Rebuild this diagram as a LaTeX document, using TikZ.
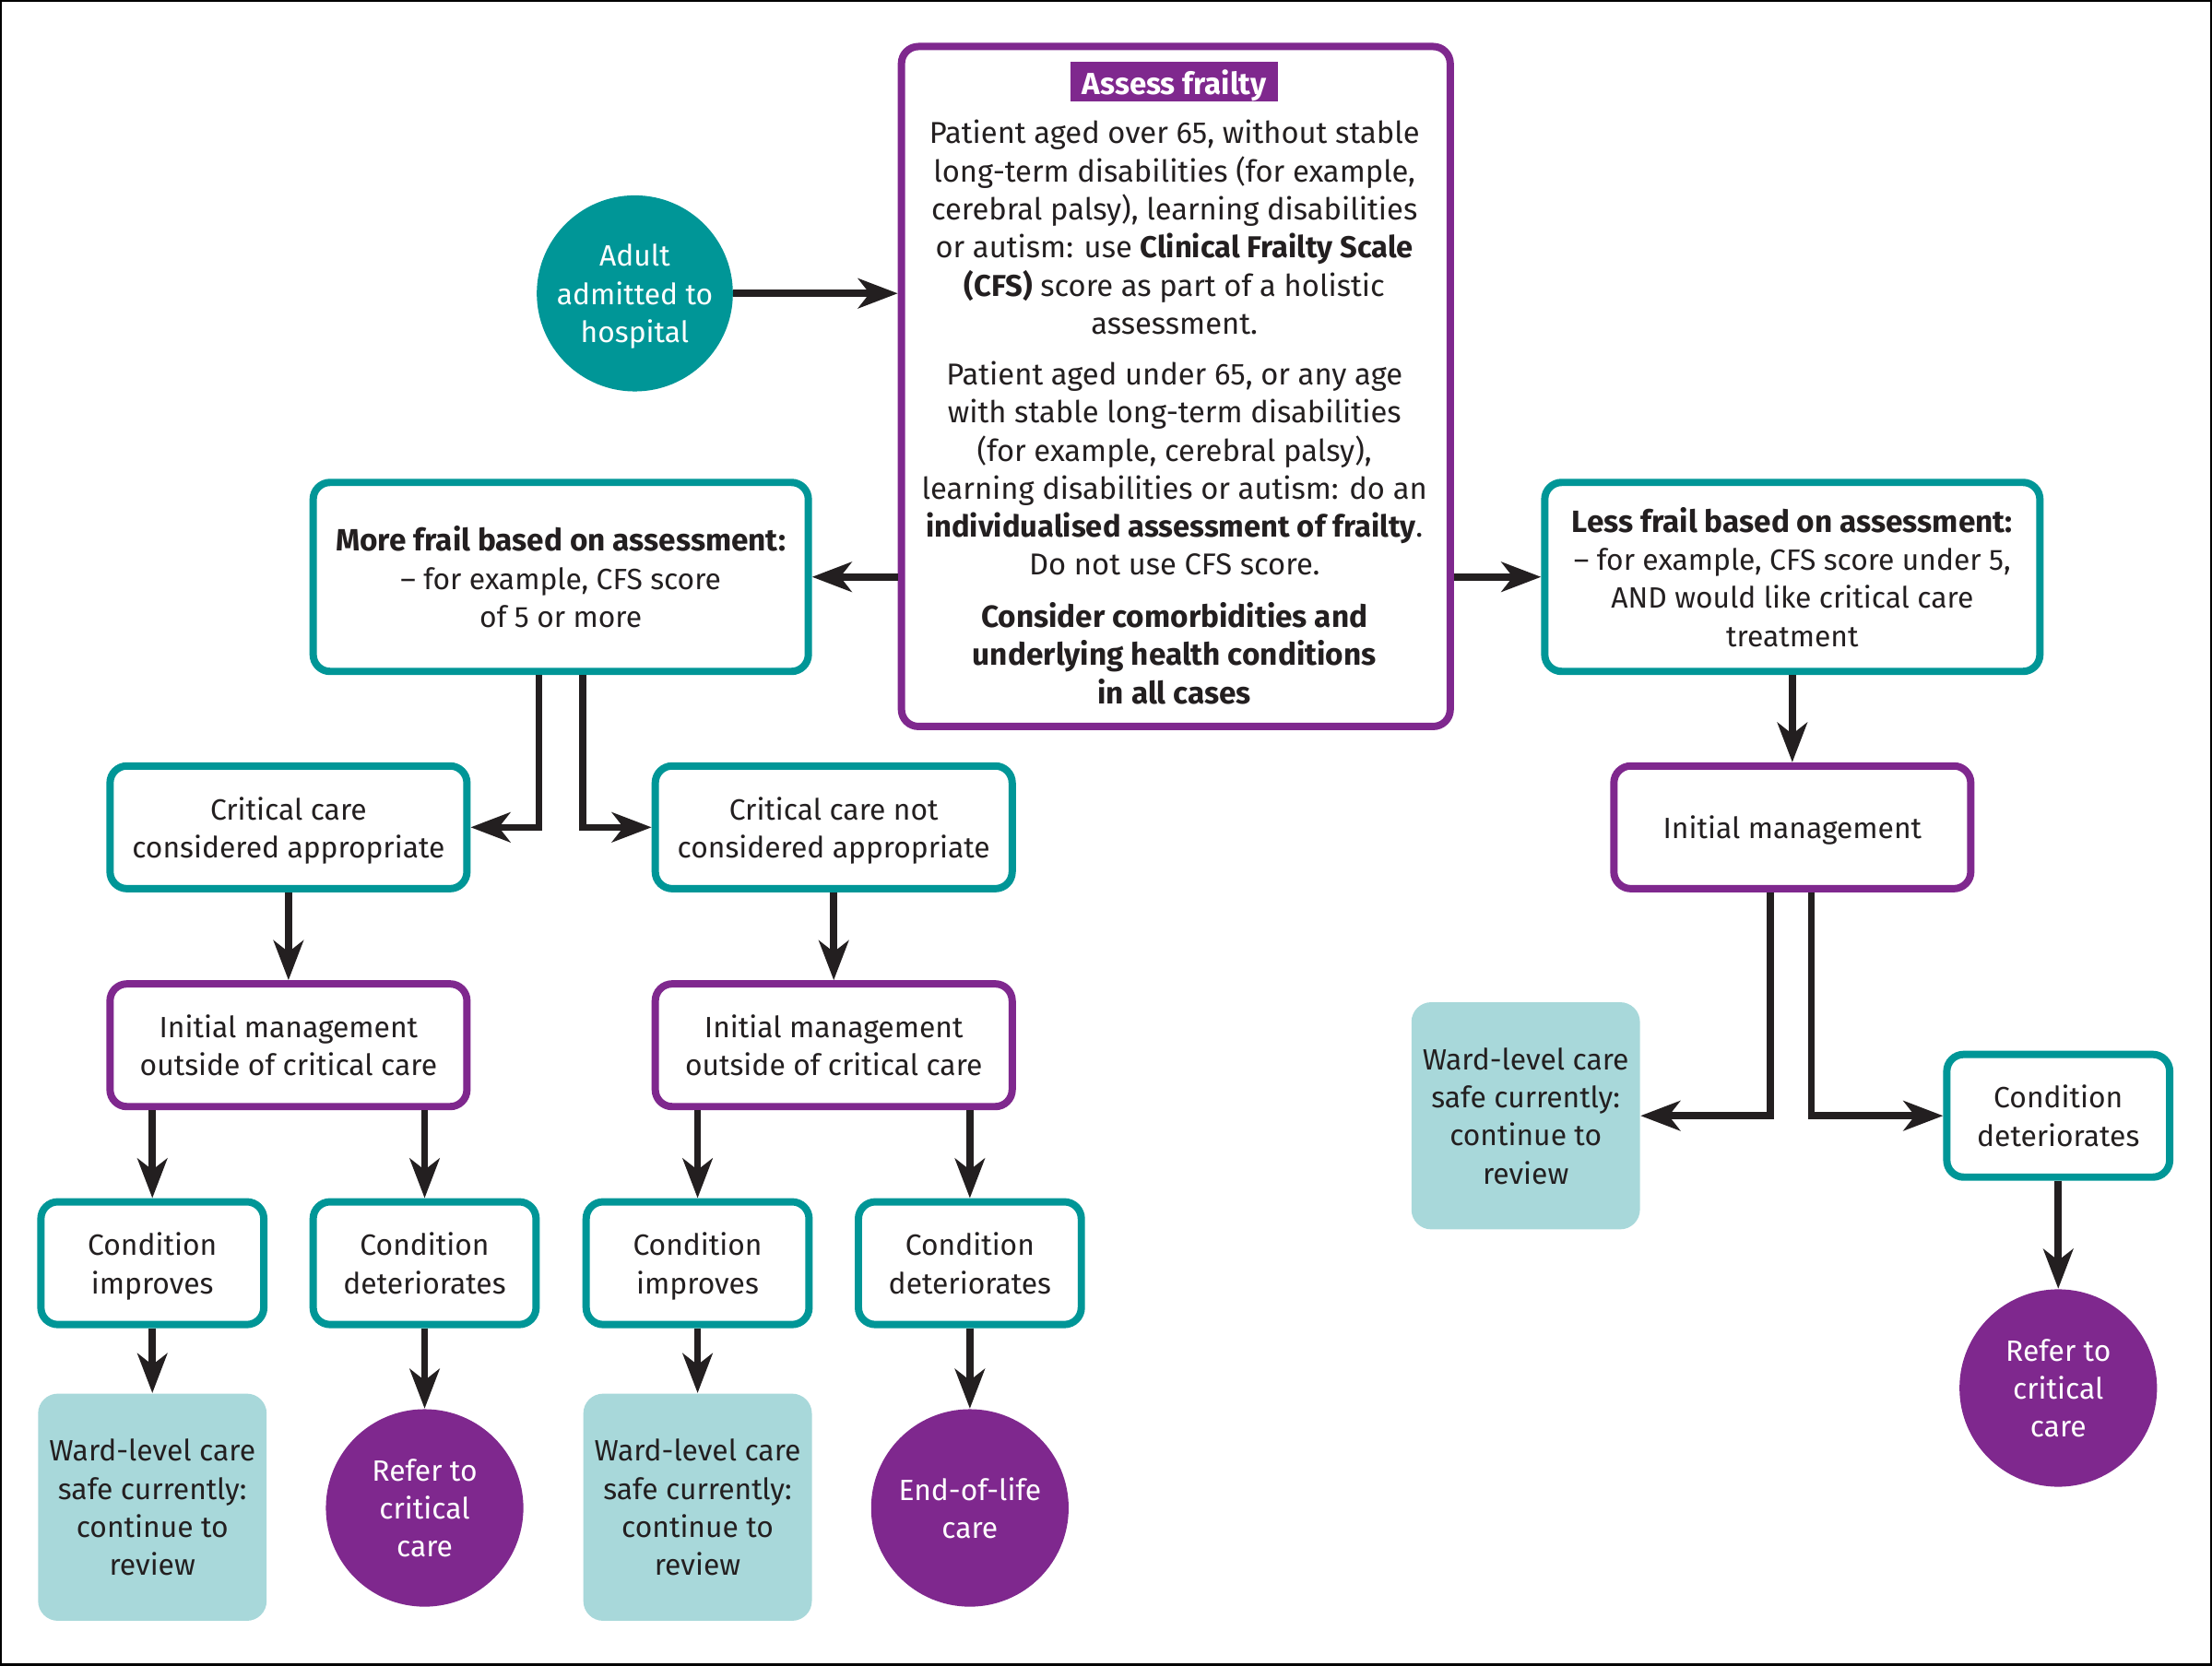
\documentclass[tikz,border=0pt]{standalone}
\usepackage{fontspec}
\setmainfont{Fira Sans}
\usetikzlibrary{arrows.meta}
\definecolor{teal1}{RGB}{0,150,151}
\definecolor{purp}{RGB}{127,40,142}
\definecolor{lteal}{RGB}{168,216,218}
\definecolor{ink}{RGB}{35,31,32}
\newcommand{\bigb}[1]{{\fontsize{10.9}{13.5}\selectfont\bfseries #1}}
\begin{document}
\begin{tikzpicture}[x=0.5pt,y=-0.5pt,
  font=\fontsize{10.4}{13.5}\selectfont,
  every node/.style={text=ink, text depth=0pt},
  tbox/.style={draw=teal1, line width=2.6pt, rounded corners=6pt, fill=white, align=center, inner sep=0pt},
  pbox/.style={draw=purp, line width=2.6pt, rounded corners=6pt, fill=white, align=center, inner sep=0pt},
  wbox/.style={fill=lteal, rounded corners=7pt, align=center, inner sep=0pt, minimum width=81pt, minimum height=80.5pt},
  tcirc/.style={circle, fill=teal1, text=white, align=center, inner sep=0pt, minimum size=69.5pt},
  pcirc/.style={circle, fill=purp, text=white, align=center, inner sep=0pt, minimum size=70pt},
  small/.style={minimum width=79pt, minimum height=43.5pt},
  mid/.style={minimum width=126.5pt, minimum height=43.5pt},
  arr/.style={draw=ink, line width=2.5pt, -{Stealth[length=14pt,width=10.5pt,inset=4pt]}},
  txt/.style={align=center, inner sep=0pt, font=\fontsize{10.7}{13.5}\selectfont}
]
\useasboundingbox (0,0) rectangle (1568,1181);
\draw[line width=0.8pt, black] (0.8,0.8) rectangle (1567.2,1180.2);

% start
\node[tcirc] (adult) at (450,208) {Adult\\admitted to\\hospital};

% assess box
\node[pbox, minimum width=194.5pt, minimum height=241pt] (assess) at (833.5,274) {};
\node[fill=purp, text=white, inner sep=0pt, minimum width=73.5pt, minimum height=14pt, font=\fontsize{10.8}{12}\selectfont\bfseries] (title) at (832.5,58) {Assess frailty};
\node[txt] (p1) at (832.5,161) {Patient aged over 65, without stable\\long-term disabilities (for example,\\cerebral palsy), learning disabilities\\or autism: use \textbf{Clinical Frailty Scale}\\\textbf{(CFS)} score as part of a holistic\\assessment.};
\node[txt] (p2) at (832.5,332) {Patient aged under 65, or any age\\with stable long-term disabilities\\(for example, cerebral palsy),\\learning disabilities or autism: do an\\\textbf{individualised assessment of frailty}.\\Do not use CFS score.};
\node[txt, font=\fontsize{10.9}{13.5}\selectfont\bfseries] (p3) at (832.5,463) {Consider comorbidities and\\underlying health conditions\\in all cases};

% frail boxes
\node[tbox, minimum width=175.5pt, minimum height=67pt] (more) at (397.5,409) {\bigb{More frail based on assessment:}\\– for example, CFS score\\of 5 or more};
\node[tbox, minimum width=175.5pt, minimum height=67pt] (less) at (1270.5,409) {\bigb{Less frail based on assessment:}\\– for example, CFS score under 5,\\AND would like critical care\\treatment};

% second level
\node[tbox, mid] (cc) at (204.5,586.5) {Critical care\\considered appropriate};
\node[tbox, mid] (ccn) at (591,586.5) {Critical care not\\considered appropriate};
\node[pbox, mid] (initR) at (1270.5,586.5) {Initial management};

\node[pbox, mid] (init1) at (204.5,741) {Initial management\\outside of critical care};
\node[pbox, mid] (init2) at (591,741) {Initial management\\outside of critical care};

\node[tbox, small] (ci1) at (108,895.5) {Condition\\improves};
\node[tbox, small] (cd1) at (301,895.5) {Condition\\deteriorates};
\node[tbox, small] (ci2) at (494.5,895.5) {Condition\\improves};
\node[tbox, small] (cd2) at (687.5,895.5) {Condition\\deteriorates};

\node[wbox] (w1) at (108,1068.5) {Ward-level care\\safe currently:\\continue to\\review};
\node[pcirc] (r1) at (301,1069) {Refer to\\critical\\care};
\node[wbox] (w2) at (494.5,1068.5) {Ward-level care\\safe currently:\\continue to\\review};
\node[pcirc] (eol) at (687.5,1069) {End-of-life\\care};

\node[wbox] (w3) at (1081.5,791) {Ward-level care\\safe currently:\\continue to\\review};
\node[tbox, small] (cd3) at (1459,791) {Condition\\deteriorates};
\node[pcirc] (r3) at (1459,984) {Refer to\\critical\\care};

% connectors
\draw[arr] (adult.east) -- (adult.east -| assess.west);
\draw[arr] (assess.west |- more.east) -- (more.east);
\draw[arr] (assess.east |- less.west) -- (less.west);
\draw[arr] ([xshift=-7.75pt]more.south) |- (cc.east);
\draw[arr] ([xshift=7.75pt]more.south) |- (ccn.west);
\draw[arr] (cc.south) -- (init1.north);
\draw[arr] (ccn.south) -- (init2.north);
\draw[arr] (ci1.north |- init1.south) -- (ci1.north);
\draw[arr] (cd1.north |- init1.south) -- (cd1.north);
\draw[arr] (ci2.north |- init2.south) -- (ci2.north);
\draw[arr] (cd2.north |- init2.south) -- (cd2.north);
\draw[arr] (ci1.south) -- (w1.north);
\draw[arr] (cd1.south) -- (r1.north);
\draw[arr] (ci2.south) -- (w2.north);
\draw[arr] (cd2.south) -- (eol.north);
\draw[arr] (less.south) -- (initR.north);
\draw[arr] ([xshift=-7.75pt]initR.south) |- (w3.east);
\draw[arr] ([xshift=6.75pt]initR.south) |- (cd3.west);
\draw[arr] (cd3.south) -- (r3.north);
\end{tikzpicture}
\end{document}
